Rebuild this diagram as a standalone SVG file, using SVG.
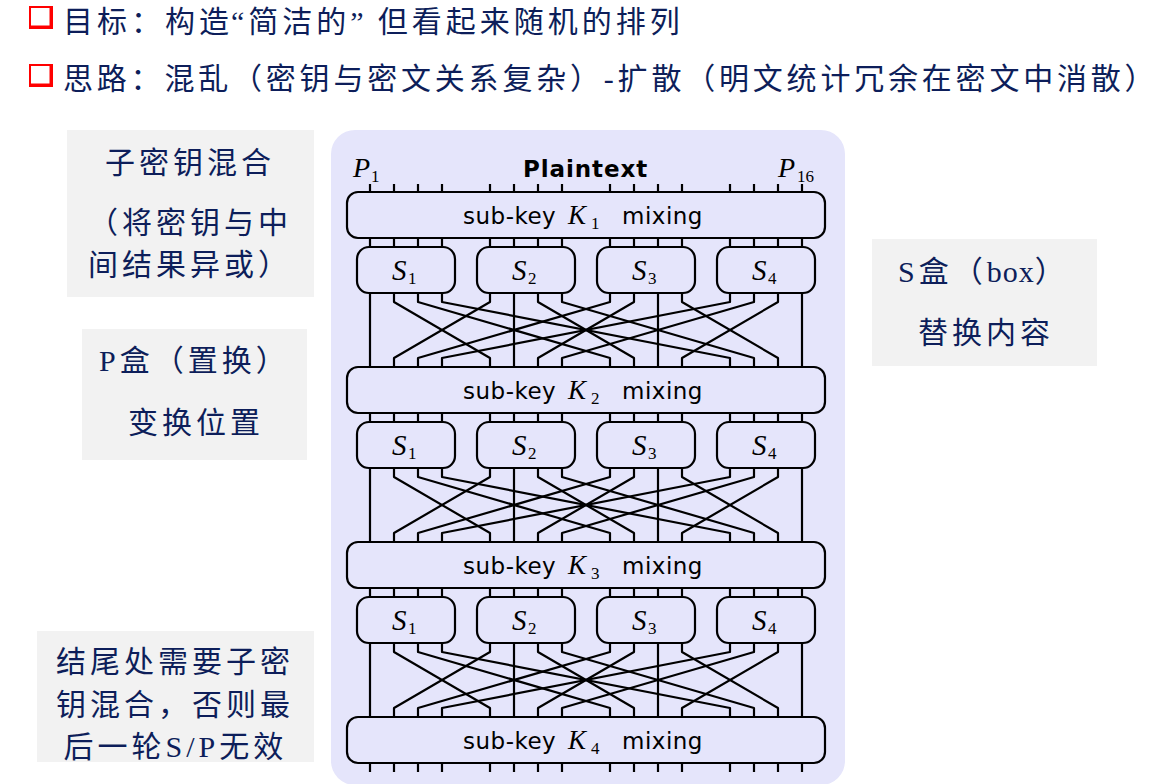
<svg xmlns="http://www.w3.org/2000/svg" width="1161" height="784" viewBox="0 0 1161 784">
<style>
.note{fill:#f2f2f2}
.cn{font-family:"Liberation Serif","Noto Sans CJK SC",serif;font-size:30px;letter-spacing:4px;fill:#0d1e5a}
.box{fill:none;stroke:#000;stroke-width:2.2}
.wire{fill:none;stroke:#000;stroke-width:2.2;stroke-linejoin:round}
.mix{font-family:"DejaVu Sans",sans-serif;font-size:23px;letter-spacing:0.5px;fill:#000}
.mi{font-family:"Liberation Serif",serif;font-style:italic;fill:#000}
.sub{font-family:"Liberation Serif",serif;font-size:17px;fill:#000}
</style>

<!-- headings -->
<g id="heading1">
<rect x="29" y="6" width="24" height="23" fill="#ff0000"/>
<rect x="31" y="8" width="18.5" height="17.5" fill="#fff"/>
<text class="cn" x="63" y="32">目标：构造<tspan dx="-2">“</tspan><tspan>简洁的</tspan><tspan>”</tspan><tspan dx="10">但看起来随机的排列</tspan></text>
</g>
<g id="heading2">
<rect x="29" y="64" width="24" height="23" fill="#ff0000"/>
<rect x="31" y="66" width="18.5" height="17.5" fill="#fff"/>
<text class="cn" x="63" y="89" style="letter-spacing:3.8px">思路：混乱（密钥与密文关系复杂）-扩散（明文统计冗余在密文中消散）</text>
</g>

<!-- annotation boxes -->
<g id="note-subkey">
<rect class="note" x="67" y="130" width="247" height="167"/>
<text class="cn" x="105" y="172.5">子密钥混合</text>
<text class="cn" x="88" y="232.5">（将密钥与中</text>
<text class="cn" x="88" y="274.5">间结果异或）</text>
</g>
<g id="note-pbox">
<rect class="note" x="82" y="329" width="225" height="131"/>
<text class="cn" x="99" y="371">P盒（置换）</text>
<text class="cn" x="128" y="432.5">变换位置</text>
</g>
<g id="note-sbox">
<rect class="note" x="872" y="239" width="225" height="127"/>
<text class="cn" x="898" y="282">S盒（<tspan style="letter-spacing:1px">box</tspan>）</text>
<text class="cn" x="918" y="342.5">替换内容</text>
</g>
<g id="note-end">
<rect class="note" x="37" y="631" width="277" height="131"/>
<text class="cn" x="56" y="672">结尾处需要子密</text>
<text class="cn" x="56" y="715">钥混合，否则最</text>
<text class="cn" x="63.5" y="757">后一轮S/P无效</text>
</g>

<!-- SPN background -->
<rect id="spn-bg" x="331" y="130" width="514" height="655" rx="24" fill="#e5e5fb"/>

<g id="plaintext-label">
<text x="523" y="177" font-family="DejaVu Sans,sans-serif" font-weight="bold" font-size="23" letter-spacing="0.9">Plaintext</text>
<text class="mi" x="353" y="177" font-size="28">P</text><text class="sub" x="371" y="182" font-size="18">1</text>
<text class="mi" x="778" y="177" font-size="28">P</text><text class="sub" x="797" y="182" font-size="18">16</text>
</g>

<!-- connectors -->
<g id="connectors">
<path class="wire" d="M370 184V192M394 184V192M418 184V192M442 184V192M490 184V192M514 184V192M538 184V192M562 184V192M610 184V192M634 184V192M658 184V192M682 184V192M730 184V192M754 184V192M778 184V192M802 184V192"/>
<path class="wire" d="M370 238V247M394 238V247M418 238V247M442 238V247M490 238V247M514 238V247M538 238V247M562 238V247M610 238V247M634 238V247M658 238V247M682 238V247M730 238V247M754 238V247M778 238V247M802 238V247"/>
<path class="wire" d="M370 413V422M394 413V422M418 413V422M442 413V422M490 413V422M514 413V422M538 413V422M562 413V422M610 413V422M634 413V422M658 413V422M682 413V422M730 413V422M754 413V422M778 413V422M802 413V422"/>
<path class="wire" d="M370 588V597M394 588V597M418 588V597M442 588V597M490 588V597M514 588V597M538 588V597M562 588V597M610 588V597M634 588V597M658 588V597M682 588V597M730 588V597M754 588V597M778 588V597M802 588V597"/>
<path class="wire" d="M370 763V772M394 763V772M418 763V772M442 763V772M490 763V772M514 763V772M538 763V772M562 763V772M610 763V772M634 763V772M658 763V772M682 763V772M730 763V772M754 763V772M778 763V772M802 763V772"/>

<!-- permutation layer 1 -->
<path class="wire" d="M370 293V367"/>
<path class="wire" d="M394 293V302L490 358V367"/>
<path class="wire" d="M418 293V302L610 358V367"/>
<path class="wire" d="M442 293V302L730 358V367"/>
<path class="wire" d="M490 293V302L394 358V367"/>
<path class="wire" d="M514 293V367"/>
<path class="wire" d="M538 293V302L634 358V367"/>
<path class="wire" d="M562 293V302L754 358V367"/>
<path class="wire" d="M610 293V302L418 358V367"/>
<path class="wire" d="M634 293V302L538 358V367"/>
<path class="wire" d="M658 293V367"/>
<path class="wire" d="M682 293V302L778 358V367"/>
<path class="wire" d="M730 293V302L442 358V367"/>
<path class="wire" d="M754 293V302L562 358V367"/>
<path class="wire" d="M778 293V302L682 358V367"/>
<path class="wire" d="M802 293V367"/>
<!-- permutation layer 2 -->
<path class="wire" d="M370 468V542"/>
<path class="wire" d="M394 468V477L490 533V542"/>
<path class="wire" d="M418 468V477L610 533V542"/>
<path class="wire" d="M442 468V477L730 533V542"/>
<path class="wire" d="M490 468V477L394 533V542"/>
<path class="wire" d="M514 468V542"/>
<path class="wire" d="M538 468V477L634 533V542"/>
<path class="wire" d="M562 468V477L754 533V542"/>
<path class="wire" d="M610 468V477L418 533V542"/>
<path class="wire" d="M634 468V477L538 533V542"/>
<path class="wire" d="M658 468V542"/>
<path class="wire" d="M682 468V477L778 533V542"/>
<path class="wire" d="M730 468V477L442 533V542"/>
<path class="wire" d="M754 468V477L562 533V542"/>
<path class="wire" d="M778 468V477L682 533V542"/>
<path class="wire" d="M802 468V542"/>
<!-- permutation layer 3 -->
<path class="wire" d="M370 643V717"/>
<path class="wire" d="M394 643V652L490 708V717"/>
<path class="wire" d="M418 643V652L610 708V717"/>
<path class="wire" d="M442 643V652L730 708V717"/>
<path class="wire" d="M490 643V652L394 708V717"/>
<path class="wire" d="M514 643V717"/>
<path class="wire" d="M538 643V652L634 708V717"/>
<path class="wire" d="M562 643V652L754 708V717"/>
<path class="wire" d="M610 643V652L418 708V717"/>
<path class="wire" d="M634 643V652L538 708V717"/>
<path class="wire" d="M658 643V717"/>
<path class="wire" d="M682 643V652L778 708V717"/>
<path class="wire" d="M730 643V652L442 708V717"/>
<path class="wire" d="M754 643V652L562 708V717"/>
<path class="wire" d="M778 643V652L682 708V717"/>
<path class="wire" d="M802 643V717"/>
</g>

<!-- sub-key mixing boxes -->
<g id="mix-K1">
<rect class="box" x="347" y="192" width="478" height="46" rx="11"/>
<text class="mix" x="463" y="224">sub-key</text><text class="mi" x="568" y="224" font-size="27">K</text><text class="sub" x="591" y="229">1</text><text class="mix" x="622" y="224">mixing</text>
</g>
<g id="mix-K2">
<rect class="box" x="347" y="367" width="478" height="46" rx="11"/>
<text class="mix" x="463" y="399">sub-key</text><text class="mi" x="568" y="399" font-size="27">K</text><text class="sub" x="591" y="404">2</text><text class="mix" x="622" y="399">mixing</text>
</g>
<g id="mix-K3">
<rect class="box" x="347" y="542" width="478" height="46" rx="11"/>
<text class="mix" x="463" y="574">sub-key</text><text class="mi" x="568" y="574" font-size="27">K</text><text class="sub" x="591" y="579">3</text><text class="mix" x="622" y="574">mixing</text>
</g>
<g id="mix-K4">
<rect class="box" x="347" y="717" width="478" height="46" rx="11"/>
<text class="mix" x="463" y="749">sub-key</text><text class="mi" x="568" y="749" font-size="27">K</text><text class="sub" x="591" y="754">4</text><text class="mix" x="622" y="749">mixing</text>
</g>

<!-- S-boxes round 1 -->
<g id="r1-S1"><rect class="box" x="357" y="247" width="98" height="46" rx="12"/><text class="mi" x="392" y="280" font-size="29">S</text><text class="sub" x="408" y="284" font-size="18">1</text></g>
<g id="r1-S2"><rect class="box" x="477" y="247" width="98" height="46" rx="12"/><text class="mi" x="512" y="280" font-size="29">S</text><text class="sub" x="528" y="284" font-size="18">2</text></g>
<g id="r1-S3"><rect class="box" x="597" y="247" width="98" height="46" rx="12"/><text class="mi" x="632" y="280" font-size="29">S</text><text class="sub" x="648" y="284" font-size="18">3</text></g>
<g id="r1-S4"><rect class="box" x="717" y="247" width="98" height="46" rx="12"/><text class="mi" x="752" y="280" font-size="29">S</text><text class="sub" x="768" y="284" font-size="18">4</text></g>
<!-- S-boxes round 2 -->
<g id="r2-S1"><rect class="box" x="357" y="422" width="98" height="46" rx="12"/><text class="mi" x="392" y="455" font-size="29">S</text><text class="sub" x="408" y="459" font-size="18">1</text></g>
<g id="r2-S2"><rect class="box" x="477" y="422" width="98" height="46" rx="12"/><text class="mi" x="512" y="455" font-size="29">S</text><text class="sub" x="528" y="459" font-size="18">2</text></g>
<g id="r2-S3"><rect class="box" x="597" y="422" width="98" height="46" rx="12"/><text class="mi" x="632" y="455" font-size="29">S</text><text class="sub" x="648" y="459" font-size="18">3</text></g>
<g id="r2-S4"><rect class="box" x="717" y="422" width="98" height="46" rx="12"/><text class="mi" x="752" y="455" font-size="29">S</text><text class="sub" x="768" y="459" font-size="18">4</text></g>
<!-- S-boxes round 3 -->
<g id="r3-S1"><rect class="box" x="357" y="597" width="98" height="46" rx="12"/><text class="mi" x="392" y="630" font-size="29">S</text><text class="sub" x="408" y="634" font-size="18">1</text></g>
<g id="r3-S2"><rect class="box" x="477" y="597" width="98" height="46" rx="12"/><text class="mi" x="512" y="630" font-size="29">S</text><text class="sub" x="528" y="634" font-size="18">2</text></g>
<g id="r3-S3"><rect class="box" x="597" y="597" width="98" height="46" rx="12"/><text class="mi" x="632" y="630" font-size="29">S</text><text class="sub" x="648" y="634" font-size="18">3</text></g>
<g id="r3-S4"><rect class="box" x="717" y="597" width="98" height="46" rx="12"/><text class="mi" x="752" y="630" font-size="29">S</text><text class="sub" x="768" y="634" font-size="18">4</text></g>
</svg>
